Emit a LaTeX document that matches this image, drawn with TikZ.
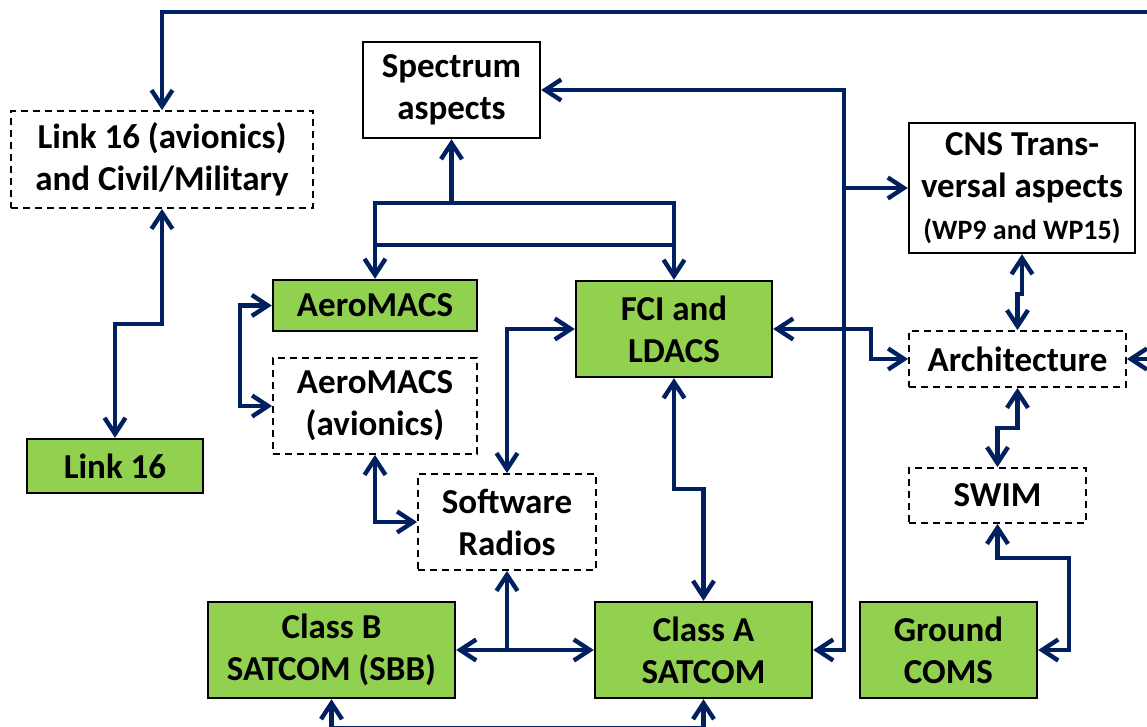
\documentclass[tikz,border=0pt]{standalone}
\usepackage{fontspec}
\setmainfont{Carlito}
\usetikzlibrary{arrows.meta}
\definecolor{linkblue}{RGB}{0,32,96}
\definecolor{boxgreen}{RGB}{146,208,80}
\begin{document}
\begin{tikzpicture}[x=0.5pt, y=-0.5pt,
    nodes={draw, rectangle, align=center, inner sep=0pt, line width=1.2pt,
      font=\fontsize{17.5}{21}\selectfont\bfseries},
    greenbox/.style={fill=boxgreen},
    dashbox/.style={dashed, dash pattern=on 3.5pt off 2.5pt, line width=0.9pt},
    boxsize/.style args={#1x#2}{minimum width=#1*0.5pt, minimum height=#2*0.5pt},
    link/.style={draw=linkblue, line width=2.2pt, >={Straight Barb[length=8pt,width=10.5pt]}}]
  \useasboundingbox (0,0) rectangle (1147,727);
  \node[dashbox, boxsize=302x97] (l16av) at (162,159.5) {Link 16 (avionics)\\and Civil/Military};
  \node[boxsize=177x96] (spec) at (451.5,90) {Spectrum\\aspects};
  \node[boxsize=226x130] (cns) at (1022,188)
    {CNS Trans-\\versal aspects\\{\fontsize{14}{16}\selectfont(WP9 and WP15)}};
  \node[greenbox, boxsize=204x51] (aero) at (375,305.5) {AeroMACS};
  \node[greenbox, boxsize=196x96] (fci) at (674,329) {FCI and\\LDACS};
  \node[dashbox, boxsize=217x56] (arch) at (1017.5,359) {Architecture};
  \node[dashbox, boxsize=204x96] (aeroav) at (375,406) {AeroMACS\\(avionics)};
  \node[greenbox, boxsize=176x54] (l16) at (115,466) {Link 16};
  \node[dashbox, boxsize=178x96] (sr) at (507,522) {Software\\Radios};
  \node[dashbox, boxsize=177x55] (swim) at (997.5,495.5) {SWIM};
  \node[greenbox, boxsize=247x96] (clb) at (331.5,650) {Class B\\SATCOM (SBB)};
  \node[greenbox, boxsize=217x96] (cla) at (703.5,650) {Class A\\SATCOM};
  \node[greenbox, boxsize=177x96] (gnd) at (948.5,650) {Ground\\COMS};

  \coordinate (topin) at (1160,12);
  \coordinate (archin) at (1160,359);
  \coordinate (split) at (451.5,203);
  \coordinate (lowbar) at (0,245);
  \coordinate (trunk) at (843,188);

  \draw[link,->] (topin) -| (l16av.north);
  \draw[link,<->] (l16av.south) -- ++(0,115) -| (l16.north);
  \draw[link,->] (split) -- (spec.south);
  \draw[link,->] (split) -| (aero.north);
  \draw[link,->] (split) -| (fci.north);
  \draw[link] (aero.north |- lowbar) -- (fci.north |- lowbar);
  \draw[link,<->] (aero.west) -- ++(-32,0) |- (aeroav.west);
  \draw[link,<->] (aeroav.south) |- (sr.west);
  \draw[link,<->] (sr.north) |- (fci.west);
  \draw[link,<->] (fci.south) -- ++(0,111) -| (cla.north);
  \draw[link,<->] (clb.east) -- (cla.west);
  \draw[link,->] (sr.south |- clb.east) -- (sr.south);
  \draw[link,<->] (clb.south) -- ++(0,29) -| (cla.south);
  \draw[link,<->] (cla.east) -- ++(31,0) |- (spec.east);
  \draw[link,->] (trunk) -- (cns.west);
  \draw[link,<->] (fci.east) -- ++(98,0) |- (arch.west);
  \draw[link,<->] (cns.south) -- ++(0,40) -| (arch.north);
  \draw[link,->] (archin) -- (arch.east);
  \draw[link,<->] (arch.south) -- ++(0,40) -| (swim.north);
  \draw[link,<->] (gnd.east) -- ++(31,0) -- ++(0,-92) -| (swim.south);
\end{tikzpicture}
\end{document}
